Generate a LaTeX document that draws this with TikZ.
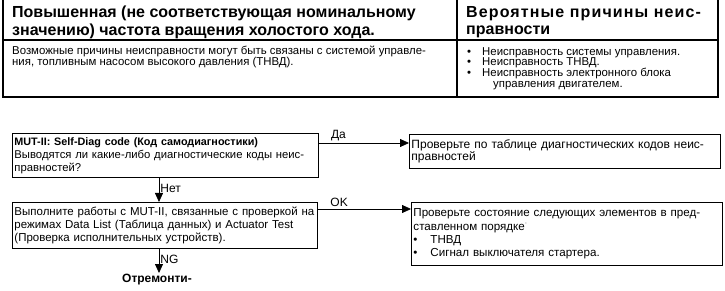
\documentclass[tikz,border=0pt]{standalone}
\usepackage{fontspec}
\setmainfont{Liberation Sans}
\usetikzlibrary{arrows.meta}

\begin{document}
\begin{tikzpicture}[
        x=1pt, y=-1pt,
        cell/.style={anchor=north west, align=left, inner sep=0pt},
        head/.style={cell, font=\fontsize{16}{17.5}\selectfont\bfseries},
        body/.style={cell, font=\fontsize{11.4}{10.9}\selectfont},
        box/.style={draw, line width=0.9pt, anchor=north west, align=left,
                    inner xsep=2pt, inner ysep=2pt},
        rule/.style={line width=1.1pt},
        arr/.style={-{Triangle[length=9pt,width=8pt]}, line width=0.8pt},
        tag/.style={font=\fontsize{12}{13}\selectfont, inner sep=1pt}
    ]
    \useasboundingbox (0,0) rectangle (725,291);

    \draw[rule] (3,0) -- (3,97) -- (718,97) -- (718,0);
    \draw[rule] (457,0) -- (457,97);
    \draw[line width=1.4pt] (3,40) -- (718,40);

    \node[head] (hleft) at (12,6)
        {Повышенная (не соответствующая номинальному\\значению) частота вращения холостого хода.};
    \node[head] (hright) at (466,6)
        {\addfontfeature{LetterSpace=7}Вероятные причины неис-\\правности};
    \node[body] (bleft) at (12,46)
        {Возможные причины неисправности могут быть связаны с системой управле-\\ния, топливным насосом высокого давления (ТНВД).};
    \node[body] (bright) at (467,47)
        {\makebox[15pt][l]{\textbullet}Неисправность системы управления.\\
         \makebox[15pt][l]{\textbullet}Неисправность ТНВД.\\
         \makebox[15pt][l]{\textbullet}Неисправность электронного блока\\
         \hspace*{26pt}управления двигателем.};

    \node[box, text width=302pt, minimum height=44pt,
          font=\fontsize{11.3}{13}\selectfont] (selfdiag) at (12,133)
        {\textbf{\fontsize{10.8}{13}\selectfont MUT-II: Self-Diag code (Код самодиагностики)}\\
         Выводятся ли какие-либо диагностические коды неис-\\правностей?};
    \node[box, text width=301pt, minimum height=46pt,
          font=\fontsize{11.5}{13}\selectfont] (datalist) at (12,202)
        {Выполните работы с MUT-II, связанные с проверкой на\\
         режимах Data List (Таблица данных) и Actuator Test\\
         (Проверка исполнительных устройств).};
    \node[box, text width=307pt, minimum height=34pt,
          font=\fontsize{12}{12.5}\selectfont] (codetab) at (409,134)
        {Проверьте по таблице диагностических кодов неис-\\правностей};
    \node[box, text width=307pt, minimum height=63pt,
          font=\fontsize{11.6}{13.4}\selectfont] (checks) at (411,202)
        {Проверьте состояние следующих элементов в пред-\\
         ставленном порядке$^{\cdot}$\\
         \makebox[17pt][l]{\textbullet}ТНВД\\
         \makebox[17pt][l]{\textbullet}Сигнал выключателя стартера.\\[-3pt]};
    \node[inner sep=1pt, anchor=north, font=\fontsize{12}{13}\selectfont\bfseries]
        (repair) at (157,273) {Отремонти-};

    \draw[arr] ([yshift=-10pt]selfdiag.north east) -- ([yshift=-9pt]codetab.north west)
        node[tag, pos=0.12, anchor=south west, yshift=1pt] (yes) {Да};
    \draw[arr] ([yshift=-7pt]datalist.north east) -- ([yshift=-7pt]checks.north west)
        node[tag, pos=0.12, anchor=south west, yshift=1pt] (ok) {OK};
    \draw[arr] ([xshift=2pt]repair.north |- selfdiag.south) -- ([xshift=2pt]repair.north |- datalist.north)
        node[tag, pos=0.45, anchor=west] (no) {Нет};
    \draw[arr] ([xshift=2pt]repair.north |- datalist.south) -- ([xshift=2pt]repair.north)
        node[tag, pos=0.45, anchor=west] (ng) {NG};
    \end{tikzpicture}
\end{document}
